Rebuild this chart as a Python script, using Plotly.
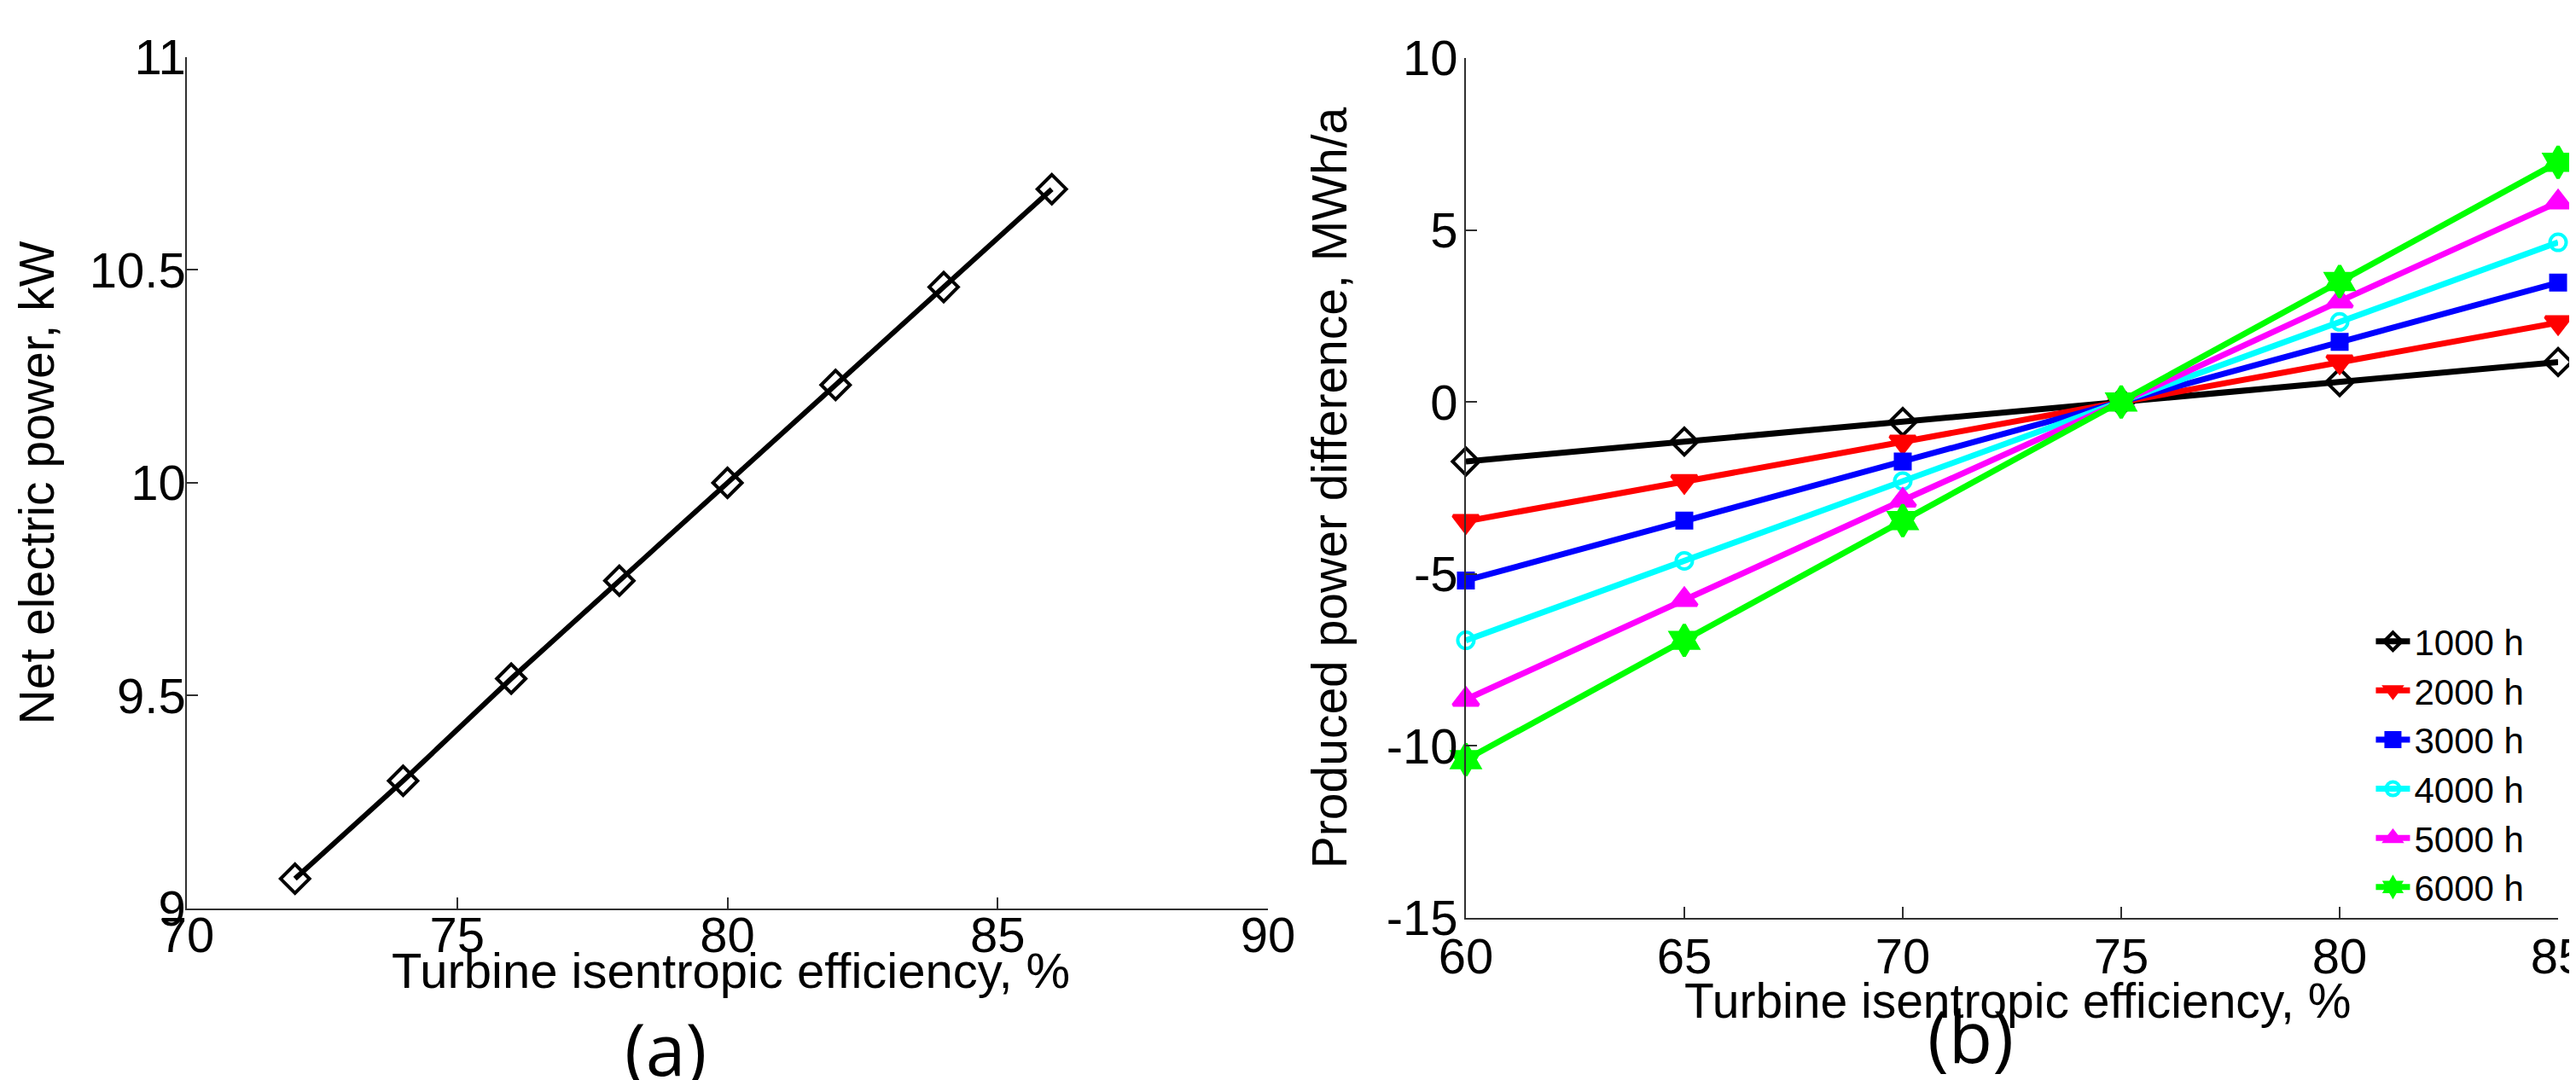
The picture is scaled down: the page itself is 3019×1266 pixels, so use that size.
import plotly.graph_objects as go

# ---------------- data ----------------
eff_a = [72, 74, 76, 78, 80, 82, 84, 86]
power_a = [9.07, 9.30, 9.54, 9.77, 10.00, 10.23, 10.46, 10.69]

eff_b = [60, 65, 70, 75, 80, 85]
series_names = ["1000 h", "2000 h", "3000 h", "4000 h", "5000 h", "6000 h"]
diff_1000 = [-1.73, -1.15, -0.58, 0.0, 0.58, 1.16]
diff_2000 = [-3.47, -2.31, -1.16, 0.0, 1.17, 2.31]
diff_3000 = [-5.19, -3.45, -1.73, 0.0, 1.75, 3.47]
diff_4000 = [-6.93, -4.62, -2.30, 0.0, 2.33, 4.64]
diff_5000 = [-8.65, -5.75, -2.86, 0.0, 2.93, 5.81]
diff_6000 = [-10.40, -6.93, -3.45, 0.0, 3.50, 6.97]

ytick_vals_b = [-15, -10, -5, 0, 5, 10]
ytick_text_b = ["-15", "-10", "-5", "0", "5", "10"]

xtitle = "Turbine isentropic efficiency, %"

# ---------------- styles ----------------
FONT = "Liberation Sans, Arial, sans-serif"
AX = "#303030"
colors = ["#000000", "#ff0000", "#0000ff", "#00ffff", "#ff00ff", "#00ff00"]
symbols = ["diamond-open", "triangle-down", "square", "circle-open", "triangle-up", "hexagram"]
msizes = [24, 26, 17, 19, 26, 28]

fig = go.Figure()

fig.add_trace(go.Scatter(
    x=eff_a, y=power_a, mode="lines+markers",
    line=dict(color="black", width=6),
    marker=dict(symbol="diamond-open", size=26, color="black", line=dict(width=4, color="black")),
    showlegend=False, cliponaxis=False, xaxis="x", yaxis="y"))

all_b = [diff_1000, diff_2000, diff_3000, diff_4000, diff_5000, diff_6000]
for name, vals, c, s, ms in zip(series_names, all_b, colors, symbols, msizes):
    fig.add_trace(go.Scatter(
        x=eff_b, y=vals, mode="lines+markers", name=name,
        line=dict(color=c, width=7),
        marker=dict(symbol=s, size=ms, color=c, line=dict(width=4, color=c)),
        cliponaxis=False, xaxis="x2", yaxis="y2"))

axis_common = dict(showline=True, linecolor=AX, linewidth=1.5, ticks="inside",
                   ticklen=13, tickwidth=1.5, tickcolor=AX, showgrid=False,
                   zeroline=False, mirror=False, automargin=False,
                   ticklabeloverflow="allow")

fig.update_layout(
    width=3019, height=1266,
    margin=dict(l=0, r=0, t=0, b=0, autoexpand=False),
    paper_bgcolor="white", plot_bgcolor="white",
    font=dict(family=FONT, color="black"),
    xaxis=dict(domain=[0.0699, 0.4896], range=[70, 90], dtick=5, anchor="y",
               tickfont=dict(size=58), ticklabelstandoff=-20,
               **axis_common),
    yaxis=dict(domain=[0.1651, 0.9534], range=[9, 11], dtick=0.5, anchor="x",
               tickfont=dict(size=58), ticklabelstandoff=-12,
               title=dict(text="Net electric power, kW", font=dict(size=57), standoff=23),
               **axis_common),
    xaxis2=dict(domain=[0.5664, 0.9904], range=[60, 85], dtick=5, anchor="y2",
                tickfont=dict(size=58), ticklabelstandoff=-6,
                **axis_common),
    yaxis2=dict(domain=[0.1564, 0.9526], range=[-15, 10], anchor="x2",
                tickvals=ytick_vals_b, ticktext=ytick_text_b,
                tickfont=dict(size=58), ticklabelstandoff=-4,
                title=dict(text="Produced power difference, MWh/a", font=dict(size=57), standoff=28),
                **axis_common),
    legend=dict(x=0.918, y=0.4392, xanchor="left", yanchor="top",
                bgcolor="rgba(0,0,0,0)", borderwidth=0,
                font=dict(size=42, family=FONT), tracegroupgap=0, itemwidth=40),
    annotations=[
        dict(text=xtitle, x=0.2812, y=0.1075, xref="paper", yref="paper",
             xanchor="center", yanchor="middle", showarrow=False,
             font=dict(family=FONT, size=58, color="black")),
        dict(text=xtitle, x=0.7807, y=0.0795, xref="paper", yref="paper",
             xanchor="center", yanchor="middle", showarrow=False,
             font=dict(family=FONT, size=57, color="black")),
        dict(text="(a)", x=0.2557, y=0.0830, xref="paper", yref="paper",
             xanchor="center", yanchor="top", showarrow=False,
             font=dict(family="Open Sans, Noto Sans, sans-serif", size=84, color="black")),
        dict(text="(b)", x=0.7625, y=0.0945, xref="paper", yref="paper",
             xanchor="center", yanchor="top", showarrow=False,
             font=dict(family="Open Sans, Noto Sans, sans-serif", size=84, color="black")),
    ],
)

fig.write_html("out.html")
